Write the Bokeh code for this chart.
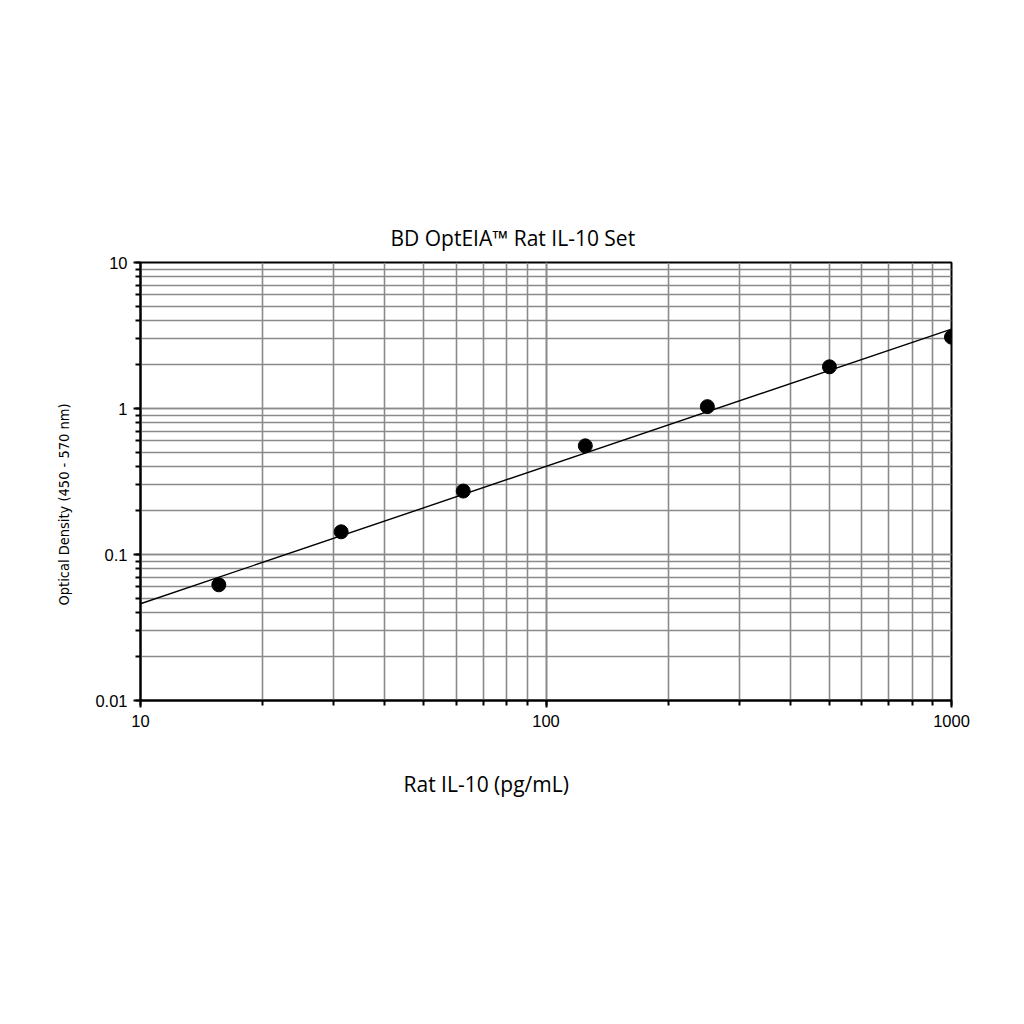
from bokeh.plotting import figure
from bokeh.models import FixedTicker, Range1d, Title
from bokeh.embed import file_html
from bokeh.resources import INLINE

# data
conc = [15.6, 31.25, 62.5, 125, 250, 500, 1000]
od = [0.062, 0.143, 0.272, 0.555, 1.03, 1.93, 3.08]
fit_x = [10, 1000]
fit_y = [0.046, 3.5]
x_major = [10, 100, 1000]
x_labels = ["10", "100", "1000"]
y_major = [0.01, 0.1, 1, 10]
y_labels = ["0.01", "0.1", "1", "10"]

x_minor = [m * d for d in (10, 100) for m in range(1, 11)]
y_minor = [m * d for d in (0.01, 0.1, 1) for m in range(1, 11)]

p = figure(width=1008, height=1008, x_axis_type="log", y_axis_type="log",
           x_range=Range1d(10, 1000), y_range=Range1d(0.01, 10),
           output_backend="svg", toolbar_location=None,
           min_border_left=140, min_border_right=57,
           min_border_top=262, min_border_bottom=308)
p.frame_width = 811
p.frame_height = 438

p.title.text = "BD OptEIA\u2122 Rat IL-10 Set"
p.title.align = "left"
p.title.offset = 250
p.title.text_font = "Open Sans"
p.title.text_font_style = "normal"
p.title.text_font_size = "21px"
p.title.text_color = "black"
p.title.standoff = 22

grid_col = "#8a8a8a"
for ax, major, labels, minor in ((p.xaxis[0], x_major, x_labels, x_minor),
                                  (p.yaxis[0], y_major, y_labels, y_minor)):
    ax.ticker = FixedTicker(ticks=major, minor_ticks=minor)
    ax.major_label_overrides = {v: l for v, l in zip(major, labels)}
    ax.axis_line_width = 2
    ax.axis_line_color = "black"
    ax.major_tick_line_width = 2
    ax.minor_tick_line_width = 2
    ax.major_tick_out = 7
    ax.major_tick_in = 0
    ax.minor_tick_out = 5
    ax.minor_tick_in = 0
    ax.major_label_text_font = "Liberation Sans"
    ax.major_label_text_font_size = "16.5px"
    ax.major_label_text_color = "black"

p.xaxis.major_label_standoff = 7
p.yaxis.major_label_standoff = 6

xlab = Title(text="Rat IL-10 (pg/mL)", align="left", offset=263,
             text_font="Open Sans", text_font_style="normal",
             text_font_size="21px", text_color="black", standoff=76)
p.add_layout(xlab, "below")

ylab = Title(text="Optical Density (450 - 570 nm)", align="left", offset=95,
             text_font="DejaVu Sans Condensed", text_font_style="normal",
             text_font_size="14.5px", text_color="black", standoff=42)
p.add_layout(ylab, "left")

for g in (p.xgrid[0], p.ygrid[0]):
    g.grid_line_color = grid_col
    g.grid_line_width = 1.6
    g.minor_grid_line_color = grid_col
    g.minor_grid_line_width = 1.6
p.xgrid.ticker = FixedTicker(ticks=x_major, minor_ticks=x_minor)
p.ygrid.ticker = FixedTicker(ticks=y_major, minor_ticks=y_minor)

p.outline_line_color = "black"
p.outline_line_width = 2
p.background_fill_color = "white"
p.border_fill_color = "white"

p.line(fit_x, fit_y, line_color="black", line_width=1.4)
p.scatter(conc, od, size=14, fill_color="black", line_color="black")

open("out.html", "w").write(file_html(p, INLINE))
